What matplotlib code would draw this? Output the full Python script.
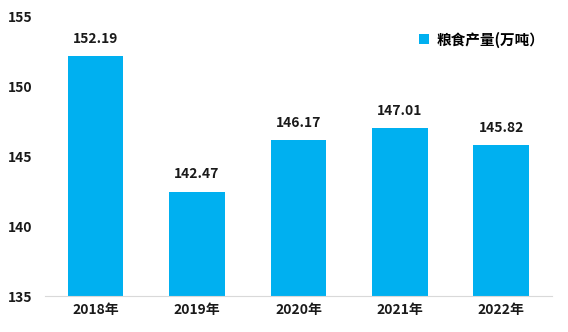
import matplotlib
matplotlib.use("Agg")
import matplotlib.pyplot as plt

plt.rcParams['font.family'] = ['Noto Sans CJK SC', 'DejaVu Sans']

# data
years = ['2018年', '2019年', '2020年', '2021年', '2022年']
grain_output = [152.19, 142.47, 146.17, 147.01, 145.82]
series_name = '粮食产量(万吨）'

bar_color = '#00B0F0'

fig = plt.figure(figsize=(5.68, 3.32), dpi=100)
ax = fig.add_axes([0.079, 0.108, 0.893, 0.841])

x = range(len(years))
bars = ax.bar(x, grain_output, width=0.55, color=bar_color, label=series_name, zorder=2)

for xi, v in zip(x, grain_output):
    ax.text(xi, v + 0.75, f'{v:.2f}', ha='center', va='bottom',
            fontsize=10, fontweight='bold', color='#1a1a1a')

ax.set_ylim(135, 155)
ax.set_xlim(-0.5, len(years) - 0.5)
ax.set_yticks([135, 140, 145, 150, 155])
ax.set_xticks(list(x))
ax.set_xticklabels(years)

for lab in ax.get_xticklabels() + ax.get_yticklabels():
    lab.set_fontweight('bold')
    lab.set_fontsize(10)
    lab.set_color('#1a1a1a')

for side in ['top', 'right', 'left']:
    ax.spines[side].set_visible(False)
ax.spines['bottom'].set_color('#d9d9d9')
ax.tick_params(axis='both', length=0)
ax.tick_params(axis='x', pad=5)
ax.tick_params(axis='y', pad=9)

leg = ax.legend(loc='upper right', bbox_to_anchor=(1.01, 0.995), frameon=False,
                handlelength=0.7, handleheight=0.7, handletextpad=0.5,
                prop={'weight': 'bold', 'size': 10.5})

fig.savefig('out.png', dpi=100, facecolor='white')
